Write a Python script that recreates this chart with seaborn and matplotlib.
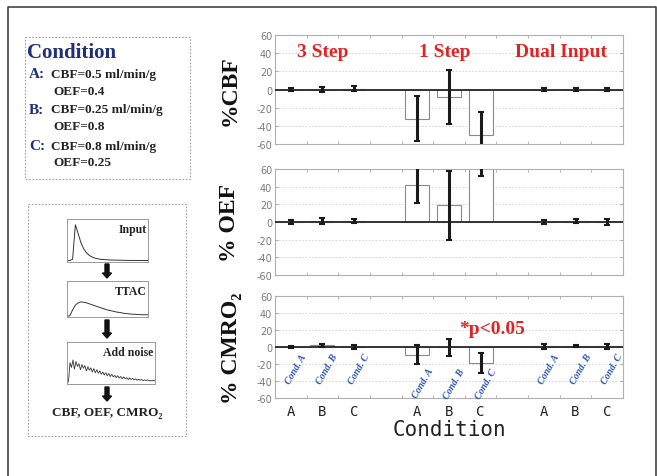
import numpy as np
import pandas as pd
import matplotlib
matplotlib.use('Agg')
import matplotlib.pyplot as plt
import seaborn as sns
from matplotlib.patches import Rectangle, FancyArrow

# ---------------- data ----------------
groups = ['3 Step', '1 Step', 'Dual Input']
conds = ['A', 'B', 'C']

cbf_mean = [0, 0, 1, -32, -8, -50, 0, 0, 0]
cbf_err = [1.5, 3, 3, 25, 30, 25, 2, 2, 2]
oef_mean = [0, 1, 1, 42, 19, 72, 0, 1, 0]
oef_err = [2, 3, 2, 20, 39, 20, 2, 2, 3]
cmro_mean = [0, 2, 0, -9, 0, -19, 1, 1, 1]
cmro_err = [1, 2, 2, 11, 10, 12, 3, 1, 3]

y_ticks = [-60, -40, -20, 0, 20, 40, 60]
panel_labels = ['%CBF', '% OEF', '% CMRO\u2082']

cond_lines = [('A:', 'CBF=0.5 ml/min/g', 'OEF=0.4'),
              ('B:', 'CBF=0.25 ml/min/g', 'OEF=0.8'),
              ('C:', 'CBF=0.8 ml/min/g', 'OEF=0.25')]

input_curve = [0.02, 0.02, 0.05, 0.95, 0.72, 0.48, 0.32, 0.22, 0.15, 0.11,
               0.08, 0.065, 0.05, 0.045, 0.04, 0.035, 0.03, 0.03, 0.028, 0.025,
               0.025, 0.022, 0.022, 0.02, 0.02, 0.02, 0.02, 0.02, 0.02, 0.02]
ttac_curve = [0.0, 0.02, 0.2, 0.35, 0.42, 0.45, 0.44, 0.42, 0.39, 0.36,
              0.33, 0.3, 0.27, 0.24, 0.21, 0.19, 0.17, 0.15, 0.13, 0.12,
              0.1, 0.09, 0.08, 0.07, 0.065, 0.06, 0.055, 0.05, 0.05, 0.05]
noise_curve = [0.0, 0.05, 0.55, 0.42, 0.62, 0.38, 0.58, 0.45, 0.52, 0.36,
               0.5, 0.4, 0.47, 0.33, 0.44, 0.35, 0.41, 0.3, 0.39, 0.28,
               0.36, 0.27, 0.33, 0.24, 0.3, 0.22, 0.28, 0.2, 0.26, 0.18,
               0.24, 0.17, 0.21, 0.15, 0.2, 0.14, 0.18, 0.12, 0.17, 0.12,
               0.15, 0.1, 0.14, 0.1, 0.13, 0.09, 0.12, 0.08, 0.11, 0.08,
               0.1, 0.07, 0.09, 0.07, 0.09, 0.06, 0.08, 0.06, 0.08, 0.06]

# ---------------- style ----------------
sns.set_style('white')
plt.rcParams['font.family'] = ['DejaVu Sans']
plt.rcParams['axes.unicode_minus'] = False
SERIF = ['Liberation Serif', 'DejaVu Serif']
RED = '#e02424'
NAVY = '#1f2f7a'
BLUE = '#2d55b8'

W, H = 657, 477
fig = plt.figure(figsize=(W / 100, H / 100), dpi=100)

# background overlay in pixel coordinates
bg = fig.add_axes([0, 0, 1, 1])
bg.set_xlim(0, W)
bg.set_ylim(H, 0)
bg.axis('off')

# outer frame (open at the bottom)
bg.plot([8, 8, 655.5, 655.5], [H + 5, 8, 8, H + 5], color='#444444', lw=1.2,
        clip_on=False)

# condition box
bg.add_patch(Rectangle((25, 38), 165, 142, fill=False, ec='#a0a0a0', lw=0.8,
                       ls=(0, (1.5, 1.5))))
bg.text(27, 53, 'Condition', family=SERIF, weight='bold', fontsize=15,
        color=NAVY, ha='left', va='center')
row_y = [(75, 92), (110, 127), (147, 163)]
for (letter, l1, l2), (y1, y2) in zip(cond_lines, row_y):
    bg.text(29, y1, letter, family=SERIF, weight='bold', fontsize=11,
            color=NAVY, ha='left', va='center')
    bg.text(51, y1, l1, family=SERIF, weight='bold', fontsize=9.5,
            color='#222222', ha='left', va='center')
    bg.text(53, y2, l2, family=SERIF, weight='bold', fontsize=9.5,
            color='#222222', ha='left', va='center')

# flow box
bg.add_patch(Rectangle((28, 205), 158, 232, fill=False, ec='#a0a0a0', lw=0.8,
                       ls=(0, (1.5, 1.5))))


def mini(rect_px, series, title, lw):
    x0, y0, x1, y1 = rect_px
    a = fig.add_axes([x0 / W, 1 - y1 / H, (x1 - x0) / W, (y1 - y0) / H])
    d = pd.DataFrame({'t': np.arange(len(series)), 'v': series})
    sns.lineplot(data=d, x='t', y='v', ax=a, color='#333333', lw=lw)
    a.set_xlim(0, len(series) - 1)
    a.set_ylim(-0.02, 1.1)
    a.set_xticks([])
    a.set_yticks([])
    a.set_xlabel('')
    a.set_ylabel('')
    for s in a.spines.values():
        s.set_color('#999999')
        s.set_linewidth(0.7)
    a.text(0.98, 0.9, title, transform=a.transAxes, ha='right', va='top',
           family=SERIF, weight='bold', fontsize=8.5, color='#222222')
    return a


mini((67, 220, 148, 263), input_curve, 'Input', 0.7)
mini((67, 282, 148, 318), ttac_curve, 'TTAC', 0.7)
mini((67, 343, 155, 385), noise_curve, 'Add noise', 0.6)

for ya, yb in [(265, 279), (321, 339), (388, 402)]:
    bg.add_patch(FancyArrow(107, ya, 0, yb - ya, width=4, head_width=9,
                            head_length=5, length_includes_head=True,
                            color='#111111'))
bg.text(107, 413, 'CBF, OEF, CMRO\u2082', family=SERIF, weight='bold',
        fontsize=9.5, color='#222222', ha='center', va='center')

# ---------------- main panels ----------------
keys = [f'{g}|{c}' for g in groups for c in conds]
order = keys[0:3] + [' '] + keys[3:6] + ['  '] + keys[6:9]
pos = [order.index(k) for k in keys]

panel_rects_px = [(275, 36, 623, 145), (275, 170, 623, 276), (275, 297, 623, 399)]
means = [cbf_mean, oef_mean, cmro_mean]
errs = [cbf_err, oef_err, cmro_err]
label_x = [-0.1, -0.1, -0.095]

axes = []
for i, ((x0, y0, x1, y1), m, e) in enumerate(zip(panel_rects_px, means, errs)):
    ax = fig.add_axes([x0 / W, 1 - y1 / H, (x1 - x0) / W, (y1 - y0) / H])
    df = pd.DataFrame({'key': keys, 'val': m})
    sns.barplot(data=df, x='key', y='val', order=order, color='white',
                saturation=1, edgecolor='#8a8a8a', linewidth=0.8,
                errorbar=None, width=0.76, ax=ax, zorder=2)
    ax.errorbar(pos, m, yerr=e, fmt='none', ecolor='#1a1a1a', elinewidth=2.2,
                capsize=2.5, capthick=1.5, zorder=4)
    ax.axhline(0, color='#333333', lw=1.4, zorder=3)
    ax.set_xlim(-0.5, 10.5)
    ax.set_ylim(-60, 60)
    ax.set_yticks(y_ticks)
    ax.yaxis.grid(True, ls=(0, (2, 2)), color='#cfcfcf', lw=0.6)
    ax.xaxis.grid(False)
    ax.set_axisbelow(True)
    ax.set_xticks(np.arange(-0.5, 11, 1), minor=True)
    ax.tick_params(axis='y', labelsize=7, labelcolor='#7a7a7a', length=2,
                   direction='in', color='#aaaaaa', left=True, right=True, pad=2)
    ax.tick_params(axis='x', which='minor', length=2, direction='in',
                   color='#aaaaaa', top=True, bottom=True)
    for s in ax.spines.values():
        s.set_color('#b0b0b0')
        s.set_linewidth(0.8)
    ax.set_ylabel(panel_labels[i], family=SERIF, weight='bold', fontsize=17,
                  color='#111111')
    ax.yaxis.set_label_coords(label_x[i], 0.5)
    ax.set_xlabel('')
    if i < 2:
        ax.set_xticks(range(11))
        ax.set_xticklabels([])
        ax.tick_params(axis='x', which='major', length=0)
    axes.append(ax)

# group titles
ax = axes[0]
for gx, g in zip([1.0, 4.85, 8.55], groups):
    ax.text(gx, 42, g, family=SERIF, weight='bold', fontsize=14, color=RED,
            ha='center', va='center', zorder=5)

# bottom panel annotations
ax = axes[2]
ax.text(6.35, 22, '*p<0.05', family=SERIF, weight='bold', fontsize=14,
        color=RED, ha='center', va='center', zorder=5)
label_y = [-6, -23, -6]
for k, p in zip(keys, pos):
    g, c = k.split('|')
    ax.text(p + 0.3, label_y[groups.index(g)], f'Cond. {c}', family=SERIF,
            weight='bold', style='italic', fontsize=7, color=BLUE,
            rotation=60, rotation_mode='anchor', ha='right', va='top',
            zorder=5)
ax.set_xticks(range(11))
ax.set_xticklabels([o.split('|')[1] if '|' in o else '' for o in order],
                   family='DejaVu Sans Mono', fontsize=10, color='#222222')
ax.tick_params(axis='x', which='major', length=0, pad=4)
ax.set_xlabel('Condition', family='DejaVu Sans Mono', fontsize=15,
              color='#222222', labelpad=1)

fig.savefig('out.png', dpi=100)
